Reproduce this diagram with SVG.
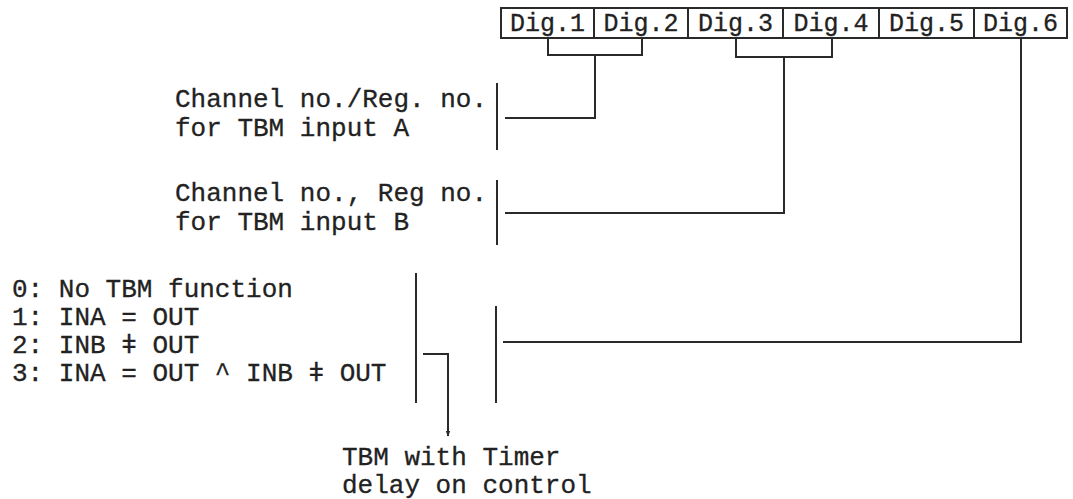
<svg xmlns="http://www.w3.org/2000/svg" width="1073" height="499" viewBox="0 0 1073 499">
<style>
  .t { font-family: "Liberation Mono", "DejaVu Sans Mono", monospace; font-size: 26px; fill: #222; stroke: #222; stroke-width: 0.3; }
  .d { font-family: "Liberation Mono", "DejaVu Sans Mono", monospace; font-size: 25px; fill: #222; stroke: #222; stroke-width: 0.3; text-anchor: middle; }
  .ln { fill: none; stroke: #2a2a2a; stroke-width: 2; }
</style>
<defs>
  <marker id="arr" viewBox="0 0 10 10" refX="9" refY="5" markerWidth="6" markerHeight="6" orient="auto" markerUnits="userSpaceOnUse">
    <path d="M0,1 L10,5 L0,9 Z" fill="#2a2a2a"/>
  </marker>
</defs>
<rect width="1073" height="499" fill="#fff"/>
<g id="register">
  <rect class="ln" x="501" y="8" width="566" height="30"/>
  <path class="ln" d="M594,8V38 M688,8V38 M783,8V38 M879,8V38 M974,8V38"/>
  <text class="d" x="547.5" y="31">Dig.1</text>
  <text class="d" x="641" y="31">Dig.2</text>
  <text class="d" x="735.5" y="31">Dig.3</text>
  <text class="d" x="831" y="31">Dig.4</text>
  <text class="d" x="926.5" y="31">Dig.5</text>
  <text class="d" x="1020.5" y="31">Dig.6</text>
</g>
<g id="inputA">
  <text class="t" x="175" y="107">Channel no./Reg. no.</text>
  <text class="t" x="175" y="136">for TBM input A</text>
  <path class="ln" d="M497,83V150"/>
</g>
<g id="inputB">
  <text class="t" x="175" y="201">Channel no., Reg no.</text>
  <text class="t" x="175" y="230">for TBM input B</text>
  <path class="ln" d="M497,180V245"/>
</g>
<g id="function">
  <text class="t" x="12" y="297">0: No TBM function</text>
  <text class="t" x="12" y="325">1: INA = OUT</text>
  <text class="t" x="12" y="353">2: INB ǂ OUT</text>
  <text class="t" x="12" y="381">3: INA = OUT ^ INB ǂ OUT</text>
  <path class="ln" d="M416,273V403"/>
  <path class="ln" d="M496,306V403"/>
</g>
<g id="timer">
  <text class="t" x="342" y="465">TBM with Timer</text>
  <text class="t" x="342" y="493">delay on control</text>
</g>
<g id="connectors">
  <path class="ln" d="M548,38V55H642V38 M595,55V118H505"/>
  <path class="ln" d="M736,38V57H832V38 M784,57V213H505"/>
  <path class="ln" d="M1021,38V342H503"/>
  <path class="ln" d="M423,354H448V436" marker-end="url(#arr)"/>
</g>
</svg>
